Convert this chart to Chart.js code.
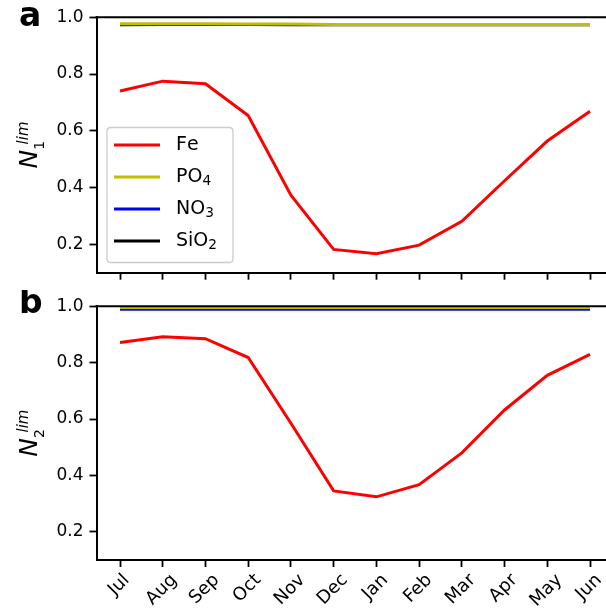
<!DOCTYPE html>
<html><head><meta charset="utf-8">
<script src="https://cdn.jsdelivr.net/npm/chart.js@4"></script>
<style>
html,body{margin:0;padding:0;background:#fff;}
#wrap{position:relative;width:606px;height:615px;overflow:hidden;background:#fff;}
#ca{position:absolute;left:0;top:0;}
#cb{position:absolute;left:0;top:290px;}
</style></head><body>
<div id="wrap"><canvas id="ca" width="614" height="290"></canvas><canvas id="cb" width="614" height="325"></canvas></div>
<script>
// ---- data ----
const months = ['Jul','Aug','Sep','Oct','Nov','Dec','Jan','Feb','Mar','Apr','May','Jun'];
const seriesNames = ['Fe','PO₄','NO₃','SiO₂'];
const seriesColors = ['#ff0000','#bfbf00','#0000ff','#000000'];
const yTickValues = [0.2,0.4,0.6,0.8,1.0];
const panelLetters = ['a','b'];
const panelSubscripts = ['1','2'];

// panel a (N1 lim)
const feA   = [0.740,0.775,0.766,0.654,0.373,0.182,0.167,0.197,0.281,0.424,0.564,0.669];
const po4A  = [0.977,0.977,0.977,0.976,0.976,0.975,0.975,0.975,0.975,0.975,0.975,0.975];
const no3A  = [0.975,0.975,0.975,0.975,0.975,0.975,0.975,0.975,0.975,0.975,0.975,0.975];
const sio2A = [0.974,0.975,0.975,0.975,0.974,0.974,0.974,0.974,0.974,0.974,0.974,0.974];
// panel b (N2 lim)
const feB   = [0.871,0.892,0.885,0.818,0.585,0.345,0.324,0.367,0.480,0.632,0.755,0.829];
const po4B  = [0.995,0.995,0.995,0.995,0.995,0.995,0.995,0.995,0.995,0.995,0.995,0.995];
const no3B  = [0.989,0.989,0.989,0.989,0.989,0.989,0.989,0.989,0.989,0.989,0.989,0.989];

// ---- helpers ----
const FONT = 'DejaVu Sans';
const LW = 3;
function pts(arr){ return arr.map((v,i)=>({x:i,y:v})); }
function ds(idx, arr){
  return {label: seriesNames[idx], data: pts(arr), borderColor: seriesColors[idx],
          backgroundColor: seriesColors[idx], borderWidth: LW, pointRadius: 0, tension: 0, fill:false};
}
const subMap = {'₀':'0','₁':'1','₂':'2','₃':'3','₄':'4','₅':'5','₆':'6','₇':'7','₈':'8','₉':'9'};
function drawSubText(ctx, text, x, y, size){
  let cx = x;
  for (const ch of text){
    if (subMap[ch]){
      ctx.font = (size*0.72)+'px "'+FONT+'"';
      ctx.fillText(subMap[ch], cx, y + size*0.22);
      cx += ctx.measureText(subMap[ch]).width;
    } else {
      ctx.font = size+'px "'+FONT+'"';
      ctx.fillText(ch, cx, y);
      cx += ctx.measureText(ch).width;
    }
  }
}

function makePlugin(panel, showLegend, showXLabels, letterY){
  return {
    id:'deco'+panel,
    afterDraw(chart){
      const ctx = chart.ctx, a = chart.chartArea;
      ctx.save();
      // top spine
      ctx.strokeStyle = '#000'; ctx.lineWidth = 2;
      ctx.beginPath(); ctx.moveTo(a.left-1, a.top); ctx.lineTo(a.right+1, a.top); ctx.stroke();
      // panel letter
      ctx.fillStyle = '#000';
      ctx.font = 'bold 33px "'+FONT+'"';
      ctx.textAlign = 'left'; ctx.textBaseline = 'alphabetic';
      ctx.fillText(panelLetters[panel], 19, letterY);
      // y title N_k^lim, rotated
      const cy = (a.top + a.bottom)/2;
      ctx.save();
      ctx.translate(37, cy);
      ctx.rotate(-Math.PI/2);
      ctx.font = 'italic 25px "'+FONT+'"';
      const wN = ctx.measureText('N').width;
      ctx.font = '14px "'+FONT+'"';
      const wSub = ctx.measureText(panelSubscripts[panel]).width;
      ctx.font = 'italic 15px "'+FONT+'"';
      const wSup = ctx.measureText('lim').width;
      const total = wN + 1 + wSub*0.5 + wSup;
      let sx = -total/2;
      ctx.textAlign = 'left'; ctx.textBaseline = 'alphabetic';
      ctx.font = 'italic 25px "'+FONT+'"';
      ctx.fillText('N', sx, 0);
      ctx.font = '14px "'+FONT+'"';
      ctx.fillText(panelSubscripts[panel], sx + wN + 0, 7);
      ctx.font = 'italic 15px "'+FONT+'"';
      ctx.fillText('lim', sx + wN + 1 + wSub*0.5, -9);
      ctx.restore();
      // legend
      if (showLegend){
        const lx = 107, ly = 127.5, lw = 126, lh = 135, r = 4;
        ctx.beginPath();
        ctx.moveTo(lx+r, ly); ctx.lineTo(lx+lw-r, ly); ctx.quadraticCurveTo(lx+lw, ly, lx+lw, ly+r);
        ctx.lineTo(lx+lw, ly+lh-r); ctx.quadraticCurveTo(lx+lw, ly+lh, lx+lw-r, ly+lh);
        ctx.lineTo(lx+r, ly+lh); ctx.quadraticCurveTo(lx, ly+lh, lx, ly+lh-r);
        ctx.lineTo(lx, ly+r); ctx.quadraticCurveTo(lx, ly, lx+r, ly);
        ctx.closePath();
        ctx.fillStyle = 'rgba(255,255,255,0.8)'; ctx.fill();
        ctx.strokeStyle = '#cccccc'; ctx.lineWidth = 1.3; ctx.stroke();
        chart.data.datasets.forEach((d, i) => {
          const ry = 145 + i*32;
          ctx.strokeStyle = d.borderColor; ctx.lineWidth = LW;
          ctx.beginPath(); ctx.moveTo(114, ry); ctx.lineTo(160, ry); ctx.stroke();
          ctx.fillStyle = '#000'; ctx.textAlign = 'left'; ctx.textBaseline = 'middle';
          drawSubText(ctx, d.label, 176, ry, 19);
        });
      }
      // x tick labels (rotated 45, centered)
      if (showXLabels){
        const xs = chart.scales.x;
        ctx.fillStyle = '#000';
        ctx.font = '18px "'+FONT+'"';
        ctx.textAlign = 'center'; ctx.textBaseline = 'middle';
        const top = a.bottom + 7 + 3;
        months.forEach((m, i) => {
          const x = xs.getPixelForValue(i);
          const w = ctx.measureText(m).width, h = 18*1.15;
          const c = (w + h)/(2*Math.SQRT2);
          ctx.save();
          ctx.translate(x - 1, top + c);
          ctx.rotate(-Math.PI/4);
          ctx.fillText(m, 0, 0);
          ctx.restore();
        });
      }
      ctx.restore();
    }
  };
}

function options(padTop, xAxisHeight){
  const grid = {drawOnChartArea:false, drawTicks:true, tickLength:7, tickWidth:1.8, tickColor:'#000'};
  const border = {display:true, color:'#000', width:2};
  return {
    responsive:false, animation:false,
    layout:{padding:{top:padTop, right:0.5, left:0, bottom:0}},
    plugins:{legend:{display:false}, tooltip:{enabled:false}},
    scales:{
      x:{type:'linear', min:-0.55, max:months.length-1+0.55,
         afterBuildTicks: s => { s.ticks = months.map((m,i)=>({value:i})); },
         ticks:{display:false},
         grid: grid, border: border,
         afterFit: s => { s.height = xAxisHeight; }},
      y:{type:'linear', min:0.1, max:1.0,
         afterBuildTicks: s => { s.ticks = yTickValues.map(v=>({value:v})); },
         ticks:{color:'#000', font:{family:FONT, size:17}, padding:6, callback: v => Number(v).toFixed(1)},
         grid: grid, border: border,
         afterFit: s => { s.width = 96.5; }}
    }
  };
}

new Chart(document.getElementById('ca'), {
  type:'line',
  data:{datasets:[ds(0,feA), ds(1,po4A), ds(2,no3A), ds(3,sio2A)]},
  options: options(17.3, 290-272.7),
  plugins:[makePlugin(0, true, false, 26)]
});
new Chart(document.getElementById('cb'), {
  type:'line',
  data:{datasets:[ds(0,feB), ds(1,po4B), ds(2,no3B)]},
  options: options(305.3-290, 325-270),
  plugins:[makePlugin(1, false, true, 23)]
});
</script>
</body></html>
